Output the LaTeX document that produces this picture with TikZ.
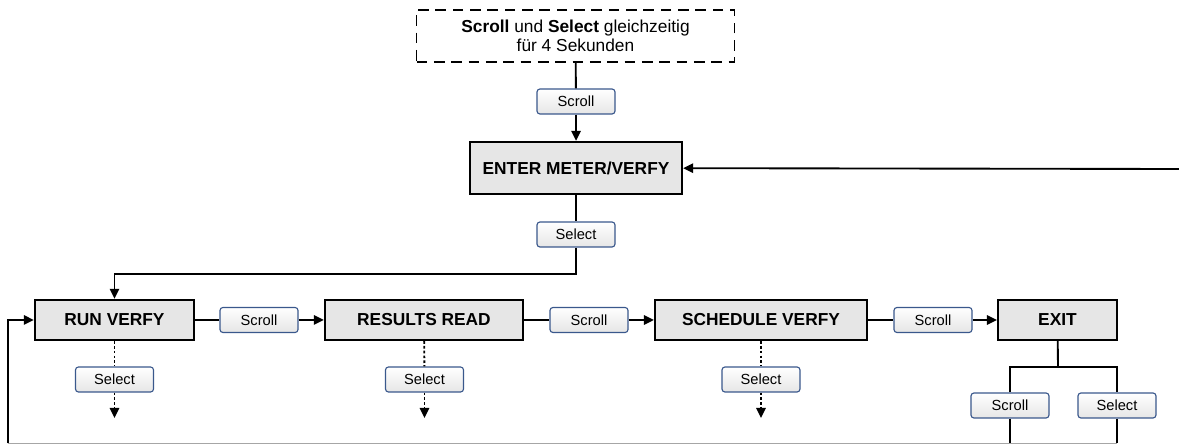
\documentclass[tikz,border=0pt]{standalone}
\usepackage{fontspec}
\setmainfont{Liberation Sans}
\usetikzlibrary{arrows.meta,shadings}
\definecolor{keyedge}{RGB}{58,88,140}
\definecolor{boxfill}{RGB}{230,230,230}
\begin{document}
\begin{tikzpicture}[x=0.75pt,y=-0.75pt,
  menubox/.style={draw=black, line width=1.7pt, fill=boxfill, inner sep=0pt,
    minimum height=30pt, font=\fontsize{13}{15}\selectfont\bfseries},
  key/.style={draw=keyedge, line width=0.85pt, rounded corners=2.2pt,
    top color=white, bottom color=gray!20, inner sep=0pt,
    minimum width=58.5pt, minimum height=18.75pt, font=\fontsize{11}{13}\selectfont},
  link/.style={line width=1.4pt},
  flow/.style={line width=1.4pt, -{Triangle[length=7.5pt,width=7pt]}},
  dotflow/.style={line width=1.4pt, dash pattern=on 2pt off 1.6pt, -{Triangle[length=7.5pt,width=7pt]}},
  dotlink/.style={line width=1.4pt, dash pattern=on 2pt off 1.6pt},
]
\useasboundingbox (0,0) rectangle (1179,445);

% start condition
\node[draw=black, line width=1.4pt, dash pattern=on 8pt off 5pt, minimum width=238.5pt,
  minimum height=39pt, inner sep=0pt, align=center, font=\fontsize{13}{14.5}\selectfont]
  (start) at (575.5,36) {\textbf{Scroll} und \textbf{Select} gleichzeitig\\für 4 Sekunden};
\node[key] (k0) at (576,101.5) {Scroll};

% main menu entry
\node[menubox, minimum width=159pt, minimum height=39pt] (enter) at (576,168) {ENTER METER/VERFY};
\node[key] (k1) at (576,234.5) {Select};
\coordinate (c1) at (576,274);
\coordinate (c2) at (114.5,274);
\coordinate (rin) at (1179,169);

% sub menu row
\node[menubox, minimum width=119.25pt] (run) at (114.5,320) {RUN VERFY};
\node[menubox, minimum width=148.5pt] (res) at (424,320) {RESULTS READ};
\node[menubox, minimum width=159pt] (sch) at (761,320) {SCHEDULE VERFY};
\node[menubox, minimum width=89.25pt] (exit) at (1057.5,320) {EXIT};

\node[key] (ks1) at (259,320) {Scroll};
\node[key] (ks2) at (589,320) {Scroll};
\node[key] (ks3) at (933,320) {Scroll};

\node[key] (sr) at (114.5,379.5) {Select};
\node[key] (ss) at (424.5,379.5) {Select};
\node[key] (sd) at (761,379.5) {Select};
\coordinate (er) at (114.5,418);
\coordinate (es) at (424.5,418);
\coordinate (ed) at (761,418);

% exit branches
\coordinate (xj) at (1058,367);
\node[key] (xs) at (1010,405.5) {Scroll};
\node[key] (xl) at (1117,405.5) {Select};
\coordinate (xsb) at (1010,443.5);
\coordinate (xlb) at (1117,443.5);
\coordinate (lb) at (8,443.5);

% connectors
\draw[link] (start) -- (k0);
\draw[flow] (k0) -- (enter);
\draw[flow] (rin) -- (enter);
\draw[link] (enter) -- (k1);
\draw[flow] (k1) -- (c1) -- (c2) -- (run);

\draw[link] (run) -- (ks1);
\draw[flow] (ks1) -- (res);
\draw[link] (res) -- (ks2);
\draw[flow] (ks2) -- (sch);
\draw[link] (sch) -- (ks3);
\draw[flow] (ks3) -- (exit);

\draw[dotlink] (run) -- (sr);
\draw[dotflow] (sr) -- (er);
\draw[dotlink] (res) -- (ss);
\draw[dotflow] (ss) -- (es);
\draw[dotlink] (sch) -- (sd);
\draw[dotflow] (sd) -- (ed);

\draw[link] (exit) -- (xj);
\draw[link] (xs.north) |- (xj) -| (xl.north);
\draw[link] (xs) -- (xsb);
\draw[link] (xl) -- (xlb);

% return path along the lower edge
\draw[line width=1pt, gray!70] (xlb) -- (lb);
\draw[flow] (lb) |- (run.west);
\end{tikzpicture}
\end{document}
